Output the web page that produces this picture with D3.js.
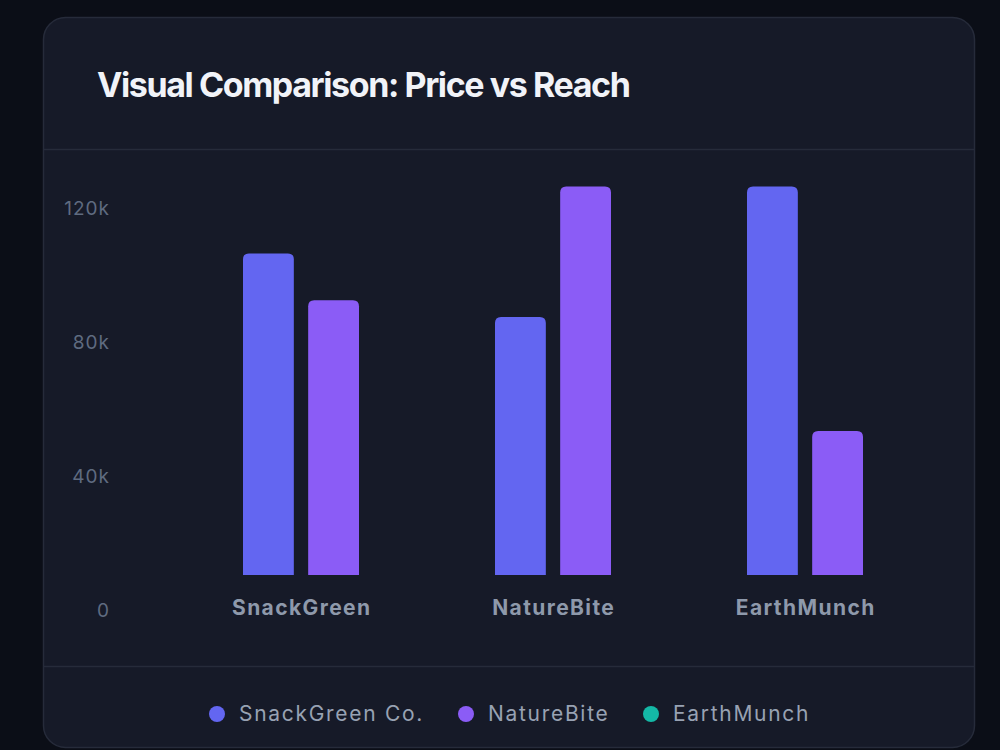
<!DOCTYPE html>
<html>
<head>
<meta charset="utf-8">
<script src="https://cdn.jsdelivr.net/npm/d3@7"></script>
<style>
  html, body { margin: 0; padding: 0; background: #0b0e17; }
  svg { display: block; }
</style>
</head>
<body>
<svg id="chart" width="1000" height="750"></svg>
<script>
// ---- data ----
const categories = ["SnackGreen", "NatureBite", "EarthMunch"];
const seriesNames = ["SnackGreen Co.", "NatureBite"];
const seriesA = [96000, 77000, 116000];   // indigo bars
const seriesB = [82000, 116000, 43000];   // purple bars
const legendLabels = ["SnackGreen Co.", "NatureBite", "EarthMunch"];
const legendColors = ["#6366f1", "#8b5cf6", "#14b8a6"];
const yTicks = [0, 40000, 80000, 120000];
const yTickLabels = ["0", "40k", "80k", "120k"];
const chartTitle = "Visual Comparison: Price vs Reach";

const svg = d3.select("#chart");

// card
svg.append("rect")
  .attr("x", 43.5).attr("y", 17.5).attr("width", 931).attr("height", 730)
  .attr("rx", 22).attr("ry", 22)
  .attr("fill", "#161a28").attr("stroke", "#262b3a").attr("stroke-width", 1.5);

// dividers
svg.append("line").attr("x1", 44).attr("x2", 974).attr("y1", 149.5).attr("y2", 149.5)
  .attr("stroke", "#262b3a").attr("stroke-width", 1.5);
svg.append("line").attr("x1", 44).attr("x2", 974).attr("y1", 666.5).attr("y2", 666.5)
  .attr("stroke", "#262b3a").attr("stroke-width", 1.5);

// title
svg.append("text")
  .attr("x", 97).attr("y", 97)
  .attr("font-family", "Inter, sans-serif").attr("font-weight", 700)
  .attr("font-size", 34).attr("fill", "#f1f3f8")
  .attr("letter-spacing", -1.4)
  .text(chartTitle);

// scales
const x0 = d3.scaleBand().domain(categories).range([175, 931]).paddingInner(0).paddingOuter(0);
const x1 = d3.scaleBand().domain([0, 1]).range([126 - 58, 126 + 58]).paddingInner(0.22);
const yAxisScale = d3.scaleLinear().domain([0, 120000]).range([610, 208]);
const yBar = d3.scaleLinear().domain([0, 120000]).range([575, 173]);

// y axis labels
const yAxis = d3.axisLeft(yAxisScale).tickValues(yTicks)
  .tickFormat((d, i) => yTickLabels[i]).tickSize(0).tickPadding(0);
const gy = svg.append("g").attr("transform", "translate(110,0)").call(yAxis);
gy.select(".domain").remove();
gy.selectAll("text")
  .attr("font-family", "Inter, sans-serif").attr("font-size", 19)
  .attr("letter-spacing", 1)
  .attr("fill", "#5f6b80").attr("dy", "0.35em");

// bars
function topRoundedRect(x, y, w, h, r) {
  r = Math.min(r, h, w / 2);
  return `M${x},${y + h}V${y + r}Q${x},${y} ${x + r},${y}H${x + w - r}Q${x + w},${y} ${x + w},${y + r}V${y + h}Z`;
}
const rows = categories.map((c, i) => ({ cat: c, vals: [seriesA[i], seriesB[i]] }));
const barColors = ["#6366f1", "#8b5cf6"];
const groups = svg.append("g").selectAll("g").data(rows).join("g")
  .attr("transform", d => `translate(${x0(d.cat)},0)`);
groups.selectAll("path").data(d => d.vals.map((v, k) => ({ v, k }))).join("path")
  .attr("d", d => topRoundedRect(x1(d.k), yBar(d.v), x1.bandwidth(), yBar(0) - yBar(d.v), 6))
  .attr("fill", d => barColors[d.k]);

// category labels (x axis)
const xAxis = d3.axisBottom(x0).tickSize(0).tickPadding(0);
const gx = svg.append("g").attr("transform", "translate(0.7,608)").call(xAxis);
gx.select(".domain").remove();
gx.selectAll("text")
  .attr("font-family", "Inter, sans-serif").attr("font-weight", 700).attr("font-size", 21)
  .attr("letter-spacing", 1.4)
  .attr("fill", "#8e99ab").attr("dy", "0.35em");

// legend
const legendX = [217, 466, 651];
const lg = svg.append("g").selectAll("g").data(legendLabels).join("g")
  .attr("transform", (d, i) => `translate(${legendX[i]},714)`);
lg.append("circle").attr("r", 8).attr("fill", (d, i) => legendColors[i]);
lg.append("text").attr("x", 22).attr("dy", "0.35em")
  .attr("font-family", "Inter, sans-serif").attr("font-size", 21)
  .attr("letter-spacing", 1.7)
  .attr("fill", "#98a2b3").text(d => d);
</script>
</body>
</html>
